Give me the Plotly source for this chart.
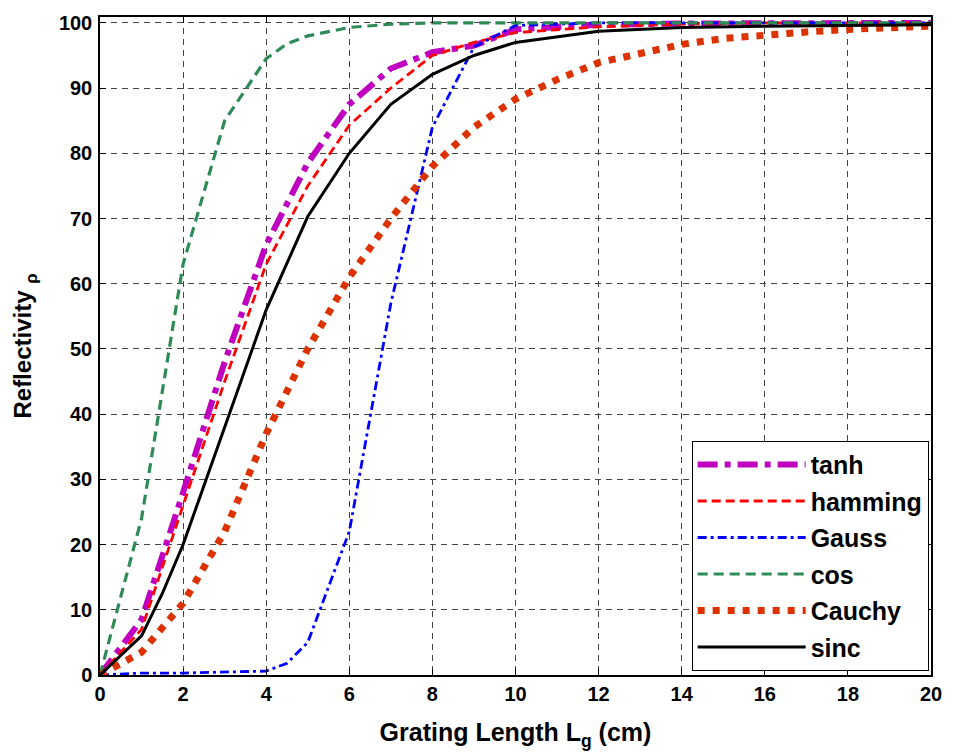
import plotly.graph_objects as go

# Data
x_int = [0, 1, 2, 3, 4, 5, 6, 7, 8, 9, 10, 11, 12, 13, 14, 15, 16, 17, 18, 19, 20]

tanh_x = [0, 1, 2, 3, 4, 5, 6, 7, 8, 9, 10, 12, 14, 16, 18, 20]
tanh_y = [0, 8.5, 28, 48, 66, 78.5, 87.5, 93, 95.5, 96.5, 99, 99.7, 99.9, 100, 100, 100]

hamming_x = [0, 1, 2, 3, 4, 5, 6, 7, 8, 9, 10, 12, 14, 16, 18, 20]
hamming_y = [0, 7, 26, 45, 63, 75, 84.3, 90, 95, 97, 98.5, 99.4, 99.8, 100, 100, 100]

gauss_x = [0, 1, 2, 3, 4, 4.5, 5, 6, 7, 8, 9, 10, 12, 14, 16, 18, 20]
gauss_y = [0, 0.3, 0.3, 0.4, 0.6, 1.8, 5, 22, 57, 84, 96.3, 99.6, 100, 100, 100, 100, 100]

cos_x = [0, 1, 2, 3, 4, 4.5, 5, 6, 7, 8, 10, 12, 14, 16, 18, 20]
cos_y = [0, 24, 63, 85, 94.5, 96.8, 98, 99.3, 99.8, 100, 100, 100, 100, 100, 100, 100]

cauchy_y = [0, 3.5, 11, 22, 37, 50, 61, 70, 78, 84, 88.3, 91.3, 93.9, 95.4, 96.7,
            97.6, 98.2, 98.6, 99, 99.3, 99.5]

sinc_x = [0, 1, 1.5, 2, 3, 4, 5, 6, 7, 8, 9, 10, 12, 14, 16, 18, 20]
sinc_y = [0, 6, 12.5, 20, 38, 56, 70.3, 80, 87.5, 92.1, 95, 97, 98.7, 99.3, 99.5, 99.6, 99.7]

x_ticks = [0, 2, 4, 6, 8, 10, 12, 14, 16, 18, 20]
y_ticks = [0, 10, 20, 30, 40, 50, 60, 70, 80, 90, 100]

FONT = "Liberation Sans, Arial, sans-serif"

fig = go.Figure()

series = [
    ("tanh", tanh_x, tanh_y, "#BF00BF", 6, "20px,7px,6px,7px"),
    ("hamming", hamming_x, hamming_y, "#FF0000", 2.8, "9px,5px"),
    ("Gauss", gauss_x, gauss_y, "#0000FF", 2.8, "9px,4px,3px,4px"),
    ("cos", cos_x, cos_y, "#2E8B57", 3.2, "10px,6px"),
    ("Cauchy", x_int, cauchy_y, "#DC3200", 7, "7px,8px"),
    ("sinc", sinc_x, sinc_y, "#000000", 3, "solid"),
]

for name, xs, ys, color, width, dash in series:
    fig.add_trace(go.Scatter(
        x=xs, y=ys, mode="lines", name=name, legendgroup=name,
        line=dict(color=color, width=width, dash=dash),
    ))

axis_common = dict(
    showline=True, linecolor="black", linewidth=1.5, mirror="ticks",
    ticks="inside", ticklen=6, tickcolor="black", tickwidth=1,
    showgrid=True, gridcolor="#444444", gridwidth=1, griddash="6px,5px",
    zeroline=False,
    tickfont=dict(family=FONT, size=20, color="black", weight="bold"),
)

fig.update_xaxes(
    range=[0, 20], tickvals=x_ticks,
    title=dict(text="Grating Length L<sub>g</sub> (cm)",
               font=dict(family=FONT, size=25, color="black", weight="bold"),
               standoff=20),
    **axis_common,
)
fig.update_yaxes(
    range=[0, 100.9], tickvals=y_ticks, ticklabelstandoff=2,
    title=dict(text="Reflectivity <sub>ρ</sub>",
               font=dict(family=FONT, size=24, color="black", weight="bold"),
               standoff=20),
    **axis_common,
)

fig.update_layout(
    width=954, height=754,
    margin=dict(l=100, r=12, t=15, b=79),
    plot_bgcolor="white", paper_bgcolor="white",
    legend=dict(
        x=0.712, y=0.356, xanchor="left", yanchor="top",
        bgcolor="white", bordercolor="black", borderwidth=1,
        font=dict(family=FONT, size=25, color="black", weight="bold"),
        tracegroupgap=1, itemwidth=108,
    ),
)

fig.write_html("out.html")
